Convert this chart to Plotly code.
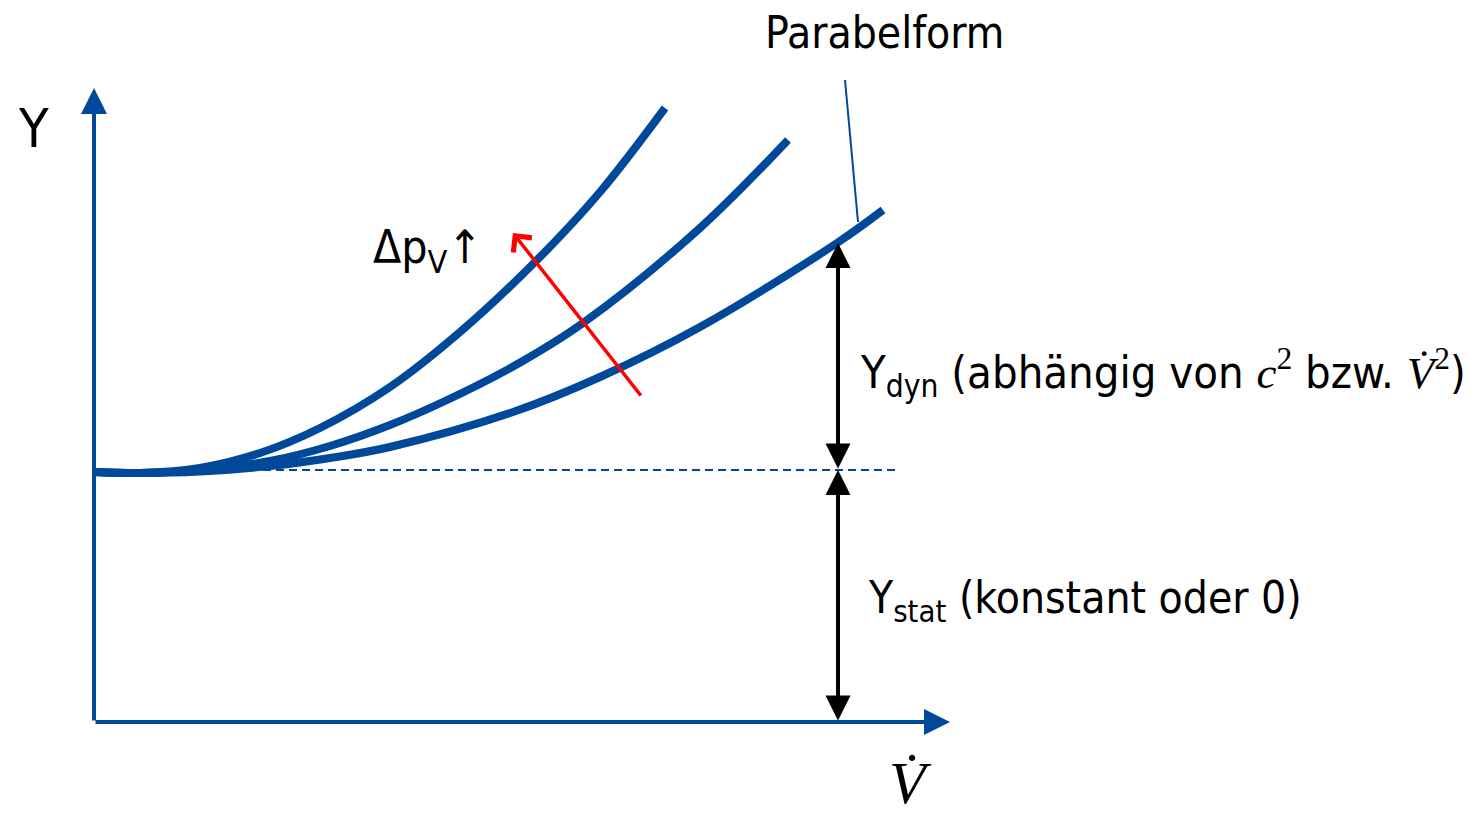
import plotly.graph_objects as go

# characteristic curves (x = volume flow, y = head)
curve1_x = [0, 0.46, 1.06, 1.66, 2.26, 2.96, 3.66, 4.43, 5.06, 5.71]
curve1_y = [2.50, 2.49, 2.54, 2.69, 2.94, 3.35, 3.90, 4.62, 5.30, 6.14]
curve2_x = [0, 0.46, 1.06, 1.76, 2.36, 2.96, 3.51, 4.20, 4.89, 6.06, 6.94]
curve2_y = [2.50, 2.49, 2.52, 2.61, 2.76, 2.97, 3.21, 3.56, 3.99, 4.94, 5.82]
curve3_x = [0, 0.46, 1.06, 1.76, 2.36, 2.96, 4.19, 5.06, 6.06, 7.43, 7.89]
curve3_y = [2.50, 2.49, 2.505, 2.56, 2.64, 2.75, 3.10, 3.45, 3.95, 4.79, 5.12]

y_stat = 2.52
y_top = 4.79
x_op = 7.44
dash_end = 8.06
x_axis_end = 8.56
y_axis_end = 6.34
leader_x = [7.51, 7.64]
leader_y = [6.42, 5.00]
red_tail = (5.48, 3.25)
red_head = (4.19, 4.89)

blue = "#00489A"
narrow = "DejaVu Sans Condensed, Liberation Sans Narrow, sans-serif"
serif = "Liberation Serif, DejaVu Serif, serif"

fig = go.Figure()
for cx, cy in [(curve1_x, curve1_y), (curve2_x, curve2_y), (curve3_x, curve3_y)]:
    fig.add_trace(go.Scatter(x=cx, y=cy, mode="lines", line=dict(color=blue, width=8, shape="spline"),
                             hoverinfo="skip"))
fig.add_trace(go.Scatter(x=[0, dash_end], y=[y_stat, y_stat], mode="lines",
                         line=dict(color=blue, width=2, dash="8px,5px"), hoverinfo="skip"))
fig.add_trace(go.Scatter(x=leader_x, y=leader_y, mode="lines", line=dict(color=blue, width=2),
                         hoverinfo="skip"))


def arrow(x0, y0, x1, y1, color, width, head, size, both=False):
    fig.add_annotation(x=x1, y=y1, ax=x0, ay=y0, xref="x", yref="y", axref="x", ayref="y",
                       text="", showarrow=True, arrowcolor=color, arrowwidth=width,
                       arrowhead=head, arrowsize=size, startarrowhead=head, startarrowsize=size,
                       arrowside="end+start" if both else "end", standoff=0, startstandoff=0)


arrow(0, 0, 0, y_axis_end, blue, 4, 2, 1.3)
arrow(0, 0, x_axis_end, 0, blue, 4, 2, 1.3)
arrow(x_op, y_stat, x_op, y_top, "black", 4, 2, 1.25, both=True)
arrow(x_op, 0, x_op, y_stat, "black", 4, 2, 1.25, both=True)
arrow(red_tail[0], red_tail[1], red_head[0], red_head[1], "red", 3.5, 4, 1.3)

sp = "<span style=\"font-family:'Liberation Serif'\">"
texts = [
    (-0.61, 5.94, "Y", narrow, 54, "center"),
    (7.90, 6.90, "Parabelform", narrow, 44, "center"),
    (3.33, 4.72, "Δp<sub>V</sub>↑", narrow, 46, "center"),
    (7.64, 3.50, "Y<sub>dyn</sub> (abhängig von " + sp + "<i>c</i><sup>2</sup></span>"
                 " bzw. " + sp + "<i>V\u0307</i><sup>2</sup></span>)", narrow, 45, "left"),
    (7.72, 1.22, "Y<sub>stat</sub> (konstant oder 0)", narrow, 44, "left"),
]
for tx, ty, t, fam, sz, anchor in texts:
    fig.add_annotation(x=tx, y=ty, xref="x", yref="y", text=t, showarrow=False,
                       font=dict(family=fam, size=sz, color="black"), xanchor=anchor, yanchor="middle")

# axis title under the flow axis, kept inside the page
fig.add_annotation(x=8.16, y=-0.95, xref="x", yref="y", text="<i>V\u0307</i>", showarrow=False,
                   font=dict(family=serif, size=60, color="black"), xanchor="center", yanchor="bottom",
                   borderpad=0)

# the page adds an 8px body margin, so the ranges are shifted to compensate
fig.update_layout(width=1484, height=819, margin=dict(l=0, r=0, t=0, b=0),
                  plot_bgcolor="white", paper_bgcolor="white", showlegend=False,
                  xaxis=dict(range=[-0.86, 13.98], visible=False, fixedrange=True),
                  yaxis=dict(range=[-1.05, 7.14], visible=False, fixedrange=True))
fig.write_html("out.html")
